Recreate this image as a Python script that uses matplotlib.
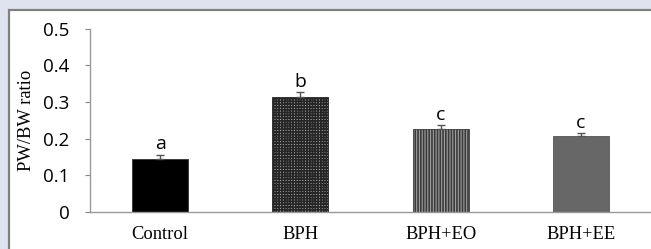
import numpy as np
import matplotlib
matplotlib.use("Agg")
import matplotlib.pyplot as plt
from matplotlib.patches import Rectangle

# Data
groups = ["Control", "BPH", "BPH+EO", "BPH+EE"]
ratio = [0.144, 0.314, 0.225, 0.207]
err = [0.012, 0.013, 0.012, 0.007]
letters = ["a", "b", "c", "c"]
y_ticks = [0, 0.1, 0.2, 0.3, 0.4, 0.5]
y_tick_labels = ["0", "0.1", "0.2", "0.3", "0.4", "0.5"]

plt.rcParams["hatch.linewidth"] = 1.2
plt.rcParams["hatch.color"] = "#262626"

fig = plt.figure(figsize=(6.51, 2.49), dpi=100)
fig.patch.set_facecolor("#dfe3f0")

# white inner panel with grey frame on left and top
panel = Rectangle((9 / 651, -0.05), 1.0, 1 - 10 / 249 + 0.05,
                  transform=fig.transFigure, facecolor="white",
                  edgecolor="#808080", linewidth=1.6, zorder=-10)
fig.add_artist(panel)

ax = fig.add_axes([90 / 651, 1 - 212 / 249, 1 - 90 / 651, (212 - 28.5) / 249])
ax.set_facecolor("none")

x = np.arange(len(groups))
faces = ["black", "#a8a8a8", "#a0a0a0", "#676767"]
edges = ["#333333", "#262626", "#3a3a3a", "#555555"]
hatches = [None, "++++++", "||||||", None]

bars = ax.bar(x, ratio, width=0.4, color=faces, edgecolor=edges, linewidth=0.6,
              zorder=2)
for b, h in zip(bars, hatches):
    if h:
        b.set_hatch(h)

ax.errorbar(x, ratio, yerr=[np.zeros(len(err)), err], fmt="none",
            ecolor="#555555", elinewidth=1, capsize=3, capthick=1, zorder=3)

for xi, v, e, lab in zip(x, ratio, err, letters):
    ax.annotate(lab, (xi, v + e), xytext=(0, 1), textcoords="offset points",
                ha="center", va="bottom", fontsize=14, family="Open Sans")

ax.set_xlim(-0.5, 3.5)
ax.set_ylim(0, 0.5)
ax.set_yticks(y_ticks)
ax.set_yticklabels(y_tick_labels, family="Open Sans", fontsize=13.5)
ax.set_xticks(x)
ax.set_xticklabels(groups, family="Liberation Serif", fontsize=13.3)
ax.tick_params(axis="x", length=0, pad=10)
ax.tick_params(axis="y", length=3.6, color="#888888", pad=11)

ax.set_ylabel("PW/BW ratio", family="Liberation Serif", fontsize=13.3, labelpad=6)

for s in ["top", "right"]:
    ax.spines[s].set_visible(False)
for s in ["left", "bottom"]:
    ax.spines[s].set_color("#999999")
    ax.spines[s].set_linewidth(1)

fig.savefig("out.png", dpi=100, facecolor=fig.get_facecolor())
